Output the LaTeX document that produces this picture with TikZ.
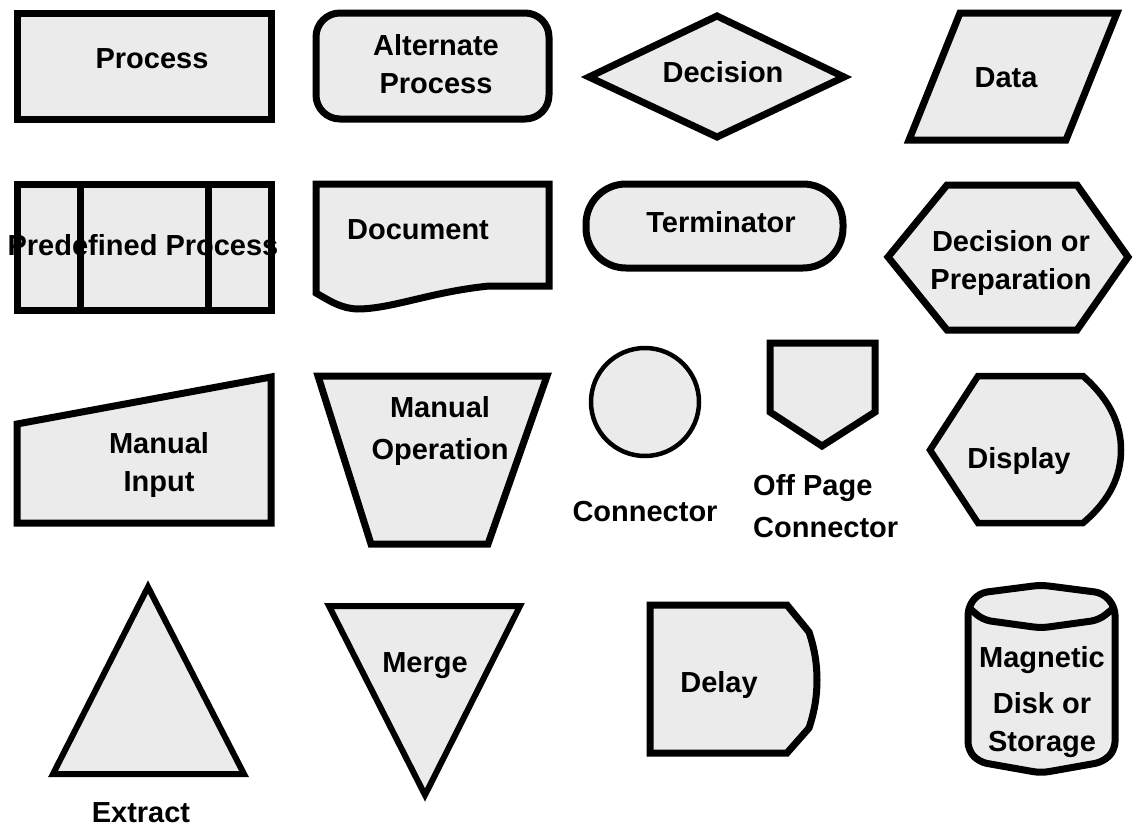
\documentclass[tikz,border=0pt]{standalone}
\usepackage{fontspec}
\setmainfont{Liberation Sans}
\usepackage{tikz}
\usetikzlibrary{positioning}

\begin{document}
\begin{tikzpicture} [x=1pt, y=-1pt,
                symbol/.style = {draw=black, fill=symbolgray, line width=7pt, line join=miter},
                thin symbol/.style = {symbol, line width=6pt},
                caption/.style = {font=\bfseries\fontsize{29}{38}\selectfont, align=center, inner sep=0pt}
            ]
            \definecolor{symbolgray}{HTML}{EBEBEB}
            \useasboundingbox (0,0) rectangle (1133,827);
            % first row
            \draw [symbol] (17,13) rectangle (271,119);
            \node[caption] (process) at (152,59) {Process};
            \draw [symbol, rounded corners=24pt] (316,13) rectangle (549,119);
            \node[caption] (altprocess) at (436,64) {Alternate\\Process};
            \draw [symbol] (589,77) -- (717,16) -- (844,77) -- (717,137) -- cycle;
            \node[caption] (decision) at (723,72) {Decision};
            \draw [symbol] (960,13) -- (1117,13) -- (1066,140) -- (909,140) -- cycle;
            \node[caption] (data) at (1006,78) {Data};
            % second row
            \draw [symbol] (17,184) rectangle (271,310);
            \draw [symbol] (80,184) -- (80,310);
            \draw [symbol] (208,184) -- (208,310);
            \node[caption] (predefined) at (143,245) {Predefined Process};
            \draw [symbol] (316,184) -- (549,184) -- (549,286) -- (489,286)
                .. controls (430,292) and (392,309) .. (357,309)
                .. controls (340,308) and (330,301) .. (316,293) -- cycle;
            \node[caption] (document) at (418,230) {Document};
            \draw [symbol, rounded corners=40pt] (586,184) rectangle (843,268);
            \node[caption] (terminator) at (721,222) {Terminator};
            \draw [symbol] (888,257) -- (947,185) -- (1077,185) -- (1128,257) -- (1077,330) -- (947,330) -- cycle;
            \node[caption] (preparation) at (1011,263) {Decision or\\Preparation};
            % third row
            \draw [symbol] (17,424) -- (271,377) -- (271,523) -- (17,523) -- cycle;
            \node[caption] (manualinput) at (159,465) {Manual\\Input};
            \draw [symbol] (318,376) -- (547,376) -- (488,544) -- (371,544) -- cycle;
            \node[caption] (manualop) at (440,431) {Manual\\[4pt]Operation};
            \draw [symbol, line width=4.5pt] (645,402) circle (54);
            \node[caption] (connector) at (645,512) {Connector};
            \draw [symbol] (770,343) -- (875,343) -- (875,412) -- (822,446) -- (770,412) -- cycle;
            \node[caption, align=left, anchor=west] (offpage) at (753,506) {Off Page\\[4pt]Connector};
            \draw [symbol, line width=6.5pt] (930,450) -- (978,376) -- (1083,376)
                .. controls (1110,400) and (1121,424) .. (1121,450)
                .. controls (1121,476) and (1110,500) .. (1083,523) -- (978,523) -- cycle;
            \node[caption] (display) at (1019,461) {Display};
            % fourth row
            \draw [thin symbol] (148,587) -- (244,774) -- (53,774) -- cycle;
            \node[caption] (extract) at (141,813) {Extract};
            \draw [thin symbol] (329,606) -- (520,606) -- (425,795) -- cycle;
            \node[caption] (merge) at (425,666) {Merge};
            \draw [symbol] (650,605) -- (787,605) -- (809,632)
                .. controls (815,650) and (817,665) .. (817,680)
                .. controls (817,695) and (815,710) .. (809,728) -- (787,753) -- (650,753) -- cycle;
            \node[caption] (delay) at (719,685) {Delay};
            \draw [symbol, rounded corners=8pt] (968,607) -- (968,750) -- (979,762) -- (1041,773) -- (1103,762)
                -- (1115,750) -- (1115,607) -- (1103,593) -- (1041,585) -- (979,593) -- cycle;
            \draw [symbol, fill=none, rounded corners=8pt] (968,607) -- (983,620) -- (1041,628) -- (1099,620) -- (1115,607);
            \node[caption] (disk) at (1042,702) {Magnetic\\[8pt]Disk or\\Storage};
        \end{tikzpicture}
\end{document}
